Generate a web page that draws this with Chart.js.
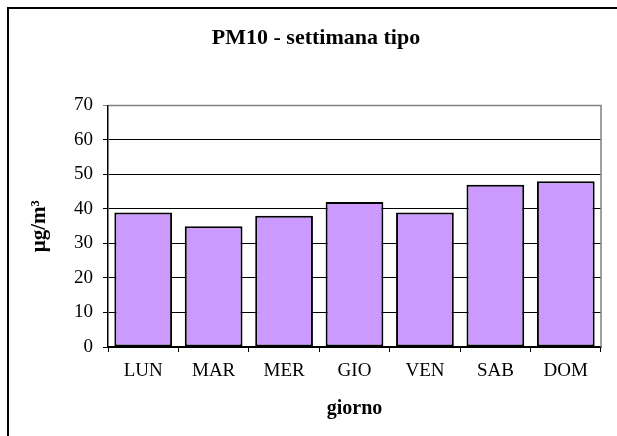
<!DOCTYPE html>
<html>
<head>
<meta charset="utf-8">
<script src="https://cdn.jsdelivr.net/npm/chart.js@4/dist/chart.umd.min.js"></script>
<style>
  html, body { margin: 0; padding: 0; background: #fff; }
  #wrap { position: relative; width: 617px; height: 436px; overflow: hidden; }
  #frame { position: absolute; left: 7px; top: 7px; width: 700px; height: 500px;
           border-left: 2px solid #000; border-top: 2px solid #000; }
  canvas { position: absolute; left: 0; top: 0; }
</style>
</head>
<body>
<div id="wrap">
  <div id="frame"></div>
  <canvas id="c" width="617" height="436"></canvas>
</div>
<script>
const days = ['LUN', 'MAR', 'MER', 'GIO', 'VEN', 'SAB', 'DOM'];
const pm10 = [39, 35, 38, 42, 39, 47, 48];
const yTicks = [0, 10, 20, 30, 40, 50, 60, 70];
const chartTitle = 'PM10 - settimana tipo';
const xTitle = 'giorno';
const yTitle = 'µg/m³';

const serif = "'Liberation Serif', 'Times New Roman', serif";

const plotBorder = {
  id: 'plotBorder',
  beforeDatasetsDraw(chart) {
    const a = chart.chartArea, ctx = chart.ctx;
    ctx.save();
    ctx.strokeStyle = '#808080';
    ctx.lineWidth = 1.5;
    ctx.beginPath();
    ctx.moveTo(a.left, a.top);
    ctx.lineTo(a.right, a.top);
    ctx.lineTo(a.right, a.bottom);
    ctx.stroke();
    ctx.restore();
  }
};

new Chart(document.getElementById('c'), {
  type: 'bar',
  data: {
    labels: days,
    datasets: [{
      data: pm10,
      backgroundColor: '#CC99FF',
      borderColor: '#000',
      borderWidth: 2,
      borderSkipped: false,
      barPercentage: 0.82,
      categoryPercentage: 1
    }]
  },
  options: {
    responsive: false,
    animation: false,
    layout: { padding: { left: 31, right: 16, top: 0, bottom: 0 } },
    plugins: {
      legend: { display: false },
      tooltip: { enabled: false },
      title: {
        display: true,
        text: chartTitle,
        color: '#000',
        font: { family: serif, size: 22, weight: 'bold' },
        padding: { top: 25, bottom: 54 }
      }
    },
    scales: {
      x: {
        grid: { drawOnChartArea: false, color: '#000', tickLength: 5, offset: true },
        border: { color: '#000', width: 1.5 },
        ticks: { color: '#000', font: { family: serif, size: 19 }, padding: 8, maxRotation: 0 },
        title: {
          display: true, text: xTitle, color: '#000',
          font: { family: serif, size: 20, weight: 'bold' },
          padding: { top: 0, bottom: 15 }
        },
        afterFit(scale) { scale.height = 89; }
      },
      y: {
        min: 0, max: 70,
        afterBuildTicks(scale) { scale.ticks = yTicks.map(v => ({ value: v })); },
        grid: {
          color: (c) => (c.tick && c.tick.value === 70 ? '#808080' : '#000'),
          lineWidth: 1,
          tickLength: 5
        },
        border: { color: '#000', width: 1.5 },
        ticks: { color: '#000', font: { family: serif, size: 19 }, padding: 10 },
        title: {
          display: true, text: yTitle, color: '#000',
          font: { family: serif, size: 21, weight: 'bold', lineHeight: 0.8 },
          padding: { top: 0, bottom: 0 }
        },
        afterFit(scale) { scale.width = 77; }
      }
    }
  },
  plugins: [plotBorder]
});
</script>
</body>
</html>
